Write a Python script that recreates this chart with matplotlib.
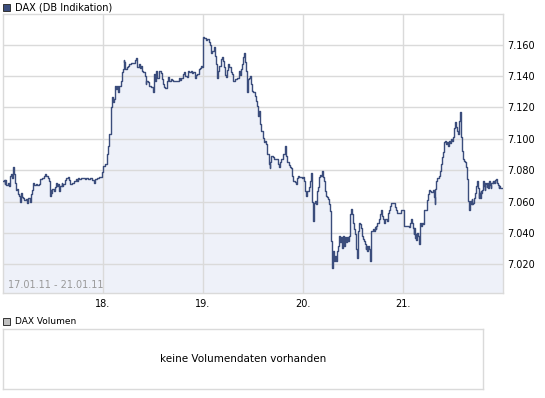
import matplotlib
matplotlib.use("Agg")
import matplotlib.pyplot as plt
from matplotlib.patches import Rectangle
from matplotlib.ticker import FuncFormatter

# Zeitpunkte in Tagen ab 17.01.11 00:00, Kurse in Punkten
zeit = [
    0.002, 0.015, 0.022, 0.032, 0.042, 0.055, 0.062, 0.075, 0.088, 0.095,
    0.108, 0.115, 0.128, 0.135, 0.148, 0.155, 0.165, 0.175, 0.185, 0.195,
    0.208, 0.221, 0.235, 0.248, 0.261, 0.274, 0.288, 0.298, 0.308, 0.321,
    0.334, 0.348, 0.368, 0.381, 0.401, 0.414, 0.427, 0.441, 0.454, 0.467,
    0.474, 0.481, 0.491, 0.501, 0.514, 0.527, 0.534, 0.547, 0.557, 0.567,
    0.581, 0.594, 0.600, 0.614, 0.627, 0.640, 0.654, 0.667, 0.680, 0.694,
    0.707, 0.720, 0.734, 0.747, 0.760, 0.773, 0.793, 0.813, 0.827, 0.840,
    0.860, 0.880, 0.900, 0.920, 0.933, 0.953, 0.973, 0.993, 1.000,
    1.006, 1.040, 1.046, 1.056, 1.073, 1.080, 1.089, 1.096, 1.103, 1.113,
    1.123, 1.133, 1.139, 1.149, 1.159, 1.173, 1.186, 1.193, 1.206, 1.213,
    1.219, 1.233, 1.246, 1.259, 1.272, 1.286, 1.299, 1.312, 1.326, 1.339,
    1.352, 1.366, 1.379, 1.392, 1.399, 1.412, 1.425, 1.432, 1.439, 1.455,
    1.472, 1.489, 1.505, 1.512, 1.522, 1.532, 1.545, 1.559, 1.572, 1.585,
    1.595, 1.605, 1.618, 1.632, 1.645, 1.658, 1.672, 1.685, 1.698, 1.712,
    1.725, 1.738, 1.752, 1.765, 1.778, 1.791, 1.805, 1.818, 1.831, 1.845,
    1.858, 1.871, 1.885, 1.898, 1.911, 1.924, 1.938, 1.951, 1.964, 1.978,
    1.991, 1.998,
    2.004, 2.024, 2.038, 2.051, 2.064, 2.078, 2.084, 2.097, 2.111, 2.117,
    2.131, 2.137, 2.151, 2.157, 2.171, 2.184, 2.197, 2.211, 2.217, 2.224,
    2.231, 2.244, 2.257, 2.270, 2.284, 2.297, 2.310, 2.324, 2.337, 2.350,
    2.364, 2.370, 2.384, 2.390, 2.404, 2.417, 2.427, 2.433, 2.443, 2.453,
    2.463, 2.477, 2.487, 2.497, 2.510, 2.523, 2.537, 2.550, 2.557, 2.563,
    2.570, 2.577, 2.590, 2.603, 2.610, 2.623, 2.636, 2.650, 2.663, 2.670,
    2.676, 2.690, 2.703, 2.716, 2.730, 2.743, 2.756, 2.763, 2.769, 2.783,
    2.796, 2.809, 2.823, 2.829, 2.836, 2.849, 2.863, 2.876, 2.889, 2.896,
    2.909, 2.923, 2.929, 2.942, 2.956, 2.969, 2.982, 2.996,
    3.002, 3.016, 3.029, 3.036, 3.049, 3.062, 3.076, 3.082, 3.089, 3.095,
    3.102, 3.109, 3.119, 3.129, 3.135, 3.142, 3.152, 3.162, 3.175, 3.182,
    3.192, 3.202, 3.215, 3.222, 3.235, 3.242, 3.255, 3.268, 3.275, 3.282,
    3.288, 3.292, 3.302, 3.312, 3.322, 3.328, 3.342, 3.355, 3.362, 3.368,
    3.382, 3.388, 3.402, 3.408, 3.415, 3.425, 3.435, 3.441, 3.451, 3.461,
    3.468, 3.478, 3.485, 3.491, 3.501, 3.511, 3.521, 3.528, 3.535, 3.541,
    3.548, 3.555, 3.561, 3.571, 3.581, 3.588, 3.601, 3.611, 3.621, 3.628,
    3.638, 3.648, 3.658, 3.668, 3.671, 3.678, 3.688, 3.701, 3.714, 3.721,
    3.728, 3.734, 3.748, 3.761, 3.771, 3.781, 3.791, 3.801, 3.814, 3.827,
    3.841, 3.851, 3.861, 3.874, 3.887, 3.907, 3.920, 3.934, 3.947, 3.960,
    3.974, 3.987,
    4.000, 4.007, 4.017, 4.034, 4.050, 4.060, 4.074, 4.080, 4.090, 4.100,
    4.107, 4.113, 4.120, 4.127, 4.133, 4.140, 4.150, 4.160, 4.167, 4.173,
    4.183, 4.193, 4.200, 4.207, 4.217, 4.233, 4.243, 4.253, 4.260, 4.266,
    4.276, 4.286, 4.300, 4.310, 4.316, 4.323, 4.333, 4.346, 4.360, 4.373,
    4.386, 4.393, 4.400, 4.406, 4.420, 4.433, 4.443, 4.453, 4.459, 4.473,
    4.483, 4.493, 4.506, 4.513, 4.519, 4.526, 4.533, 4.543, 4.549, 4.556,
    4.566, 4.573, 4.576, 4.586, 4.592, 4.599, 4.612, 4.626, 4.632, 4.639,
    4.646, 4.652, 4.659, 4.666, 4.672, 4.679, 4.686, 4.692, 4.706, 4.712,
    4.719, 4.726, 4.732, 4.739, 4.745, 4.752, 4.759, 4.765, 4.772, 4.779,
    4.785, 4.792, 4.799, 4.805, 4.812, 4.819, 4.825, 4.832, 4.839, 4.845,
    4.852, 4.859, 4.865, 4.872, 4.878, 4.885, 4.892, 4.899, 4.905, 4.912,
    4.918, 4.925, 4.932, 4.938, 4.945, 4.952, 4.958, 4.965, 4.978, 4.992,
]

kurs = [
    7073.2, 7074.0, 7071.0, 7074.0, 7070.5, 7072.0, 7070.0, 7076.4, 7077.5, 7075.0,
    7082.2, 7077.5, 7072.0, 7067.3, 7068.0, 7065.0, 7063.5, 7059.4, 7065.7, 7063.0,
    7062.5, 7060.9, 7061.3, 7059.0, 7062.5, 7059.4, 7064.5, 7067.3, 7072.0, 7070.5,
    7071.0, 7070.5, 7071.0, 7074.3, 7075.0, 7076.2, 7077.5, 7076.4, 7075.3, 7072.8,
    7063.5, 7067.3, 7065.7, 7068.0, 7067.0, 7069.0, 7071.5, 7070.0, 7071.0, 7066.5,
    7070.0, 7072.0, 7070.0, 7071.0, 7074.0, 7075.3, 7075.7, 7074.0, 7071.0, 7071.5,
    7072.0, 7073.0, 7074.3, 7073.0, 7075.0, 7074.3, 7075.3, 7075.0, 7074.3, 7075.3,
    7074.6, 7075.0, 7074.0, 7072.0, 7074.3, 7075.3, 7075.7, 7075.7, 7078.5,
    7082.8, 7084.0, 7090.3, 7095.6, 7103.0, 7112.6, 7120.0, 7126.4, 7123.5, 7125.5,
    7133.8, 7133.0, 7132.0, 7133.8, 7129.6, 7133.8, 7137.0, 7142.3, 7144.3, 7150.2,
    7149.0, 7144.3, 7145.8, 7146.4, 7147.4, 7148.0, 7148.0, 7148.5, 7150.2, 7151.5,
    7145.8, 7147.4, 7145.3, 7146.4, 7143.3, 7142.3, 7140.3, 7135.0, 7137.0, 7136.0,
    7133.8, 7133.0, 7130.1, 7141.3, 7137.0, 7143.3, 7138.7, 7139.0, 7143.3, 7141.7,
    7138.0, 7135.0, 7133.2, 7132.5, 7136.6, 7139.6, 7137.0, 7138.0, 7137.5, 7136.6,
    7137.0, 7136.6, 7137.0, 7138.7, 7137.5, 7139.0, 7141.3, 7142.3, 7140.3, 7139.6,
    7143.0, 7142.3, 7143.3, 7141.7, 7142.3, 7139.0, 7140.8, 7141.3, 7144.3, 7145.3,
    7146.4, 7145.5,
    7164.7, 7164.3, 7163.0, 7163.6, 7161.5, 7160.0, 7154.5, 7156.2, 7155.7, 7158.3,
    7153.0, 7147.7, 7139.0, 7143.3, 7146.4, 7150.9, 7152.0, 7149.8, 7145.5, 7140.8,
    7139.6, 7143.8, 7147.7, 7145.5, 7142.3, 7141.3, 7136.5, 7138.0, 7138.0, 7139.0,
    7143.3, 7140.8, 7144.3, 7147.7, 7152.3, 7154.5, 7148.7, 7143.3, 7129.6, 7138.0,
    7139.0, 7140.0, 7134.7, 7130.5, 7129.6, 7127.4, 7124.3, 7121.0, 7114.7, 7117.8,
    7114.7, 7109.4, 7105.1, 7100.8, 7097.7, 7098.6, 7096.5, 7090.3, 7083.9, 7081.3,
    7085.0, 7089.2, 7088.2, 7087.0, 7087.0, 7087.0, 7083.9, 7081.8, 7085.0, 7087.0,
    7087.0, 7090.3, 7095.6, 7092.8, 7089.2, 7085.0, 7083.5, 7082.3, 7081.3, 7076.4,
    7073.2, 7072.2, 7071.1, 7075.3, 7076.4, 7075.8, 7075.8, 7075.3,
    7075.8, 7072.9, 7066.9, 7063.7, 7066.9, 7069.0, 7073.2, 7077.9, 7070.0, 7059.5,
    7047.6, 7057.3, 7058.8, 7060.5, 7058.3, 7066.9, 7069.0, 7075.4, 7077.1, 7076.5,
    7079.6, 7075.4, 7072.9, 7066.9, 7063.7, 7063.0, 7061.6, 7058.4, 7054.0, 7034.9,
    7031.7, 7017.8, 7028.5, 7022.1, 7025.3, 7022.1, 7028.5, 7031.7, 7038.1, 7033.9,
    7037.1, 7030.7, 7038.1, 7036.1, 7031.7, 7037.1, 7033.9, 7037.6, 7034.9, 7038.1,
    7046.6, 7051.9, 7055.1, 7051.9, 7046.6, 7042.4, 7039.2, 7033.9, 7029.6, 7024.2,
    7032.7, 7041.3, 7046.6, 7045.5, 7043.4, 7038.1, 7036.0, 7034.9, 7032.7, 7029.6,
    7031.7, 7028.5, 7031.7, 7029.6, 7022.1, 7032.7, 7041.3, 7042.4, 7041.3, 7043.8,
    7042.4, 7044.5, 7046.6, 7048.8, 7051.9, 7054.5, 7050.9, 7048.8, 7046.6, 7048.8,
    7047.7, 7053.0, 7054.5, 7057.3, 7058.8, 7058.8, 7056.6, 7054.5, 7053.0, 7052.4,
    7053.0, 7054.5,
    7054.5, 7047.7, 7044.5, 7044.1, 7044.5, 7043.9, 7046.2, 7048.8, 7046.6, 7043.4,
    7039.6, 7043.4, 7036.8, 7039.0, 7035.8, 7040.0, 7038.0, 7032.8, 7040.0, 7046.6,
    7044.5, 7046.6, 7045.5, 7052.4, 7054.5, 7054.5, 7060.8, 7065.1, 7067.6, 7066.9,
    7066.9, 7066.3, 7067.3, 7063.0, 7058.3, 7068.3, 7073.2, 7074.9, 7076.4, 7079.6,
    7083.9, 7088.2, 7091.4, 7097.7, 7098.8, 7096.7, 7097.7, 7095.6, 7098.8, 7097.1,
    7099.9, 7098.4, 7101.0, 7106.9, 7110.5, 7109.0, 7107.8, 7105.2, 7103.1, 7106.3,
    7111.2, 7116.9, 7110.5, 7101.0, 7092.4, 7087.1, 7085.6, 7085.0, 7081.8, 7074.4,
    7065.8, 7060.5, 7054.5, 7059.3, 7060.5, 7058.3, 7061.5, 7058.3, 7059.3, 7062.5,
    7065.7, 7066.8, 7070.0, 7071.5, 7072.8, 7068.5, 7062.5, 7065.7, 7062.5, 7066.8,
    7065.7, 7067.2, 7069.3, 7073.2, 7070.0, 7067.2, 7072.1, 7071.0, 7069.3, 7072.1,
    7068.9, 7071.0, 7073.2, 7070.6, 7068.9, 7072.1, 7071.5, 7073.2, 7071.5, 7073.2,
    7072.1, 7073.6, 7074.2, 7071.5, 7072.1, 7070.6, 7068.5, 7070.0, 7068.9, 7068.5,
]

start_tag = 17
tage = [18, 19, 20, 21]
tag_labels = ["18.", "19.", "20.", "21."]
y_ticks = [7020, 7040, 7060, 7080, 7100, 7120, 7140, 7160]

LINIE = "#3b4d7c"
FLAECHE = "#eef1f9"
GRID = "#dadada"

fig = plt.figure(figsize=(5.45, 3.98), dpi=100)

ax = fig.add_axes([0.005, 0.263, 0.9185, 0.7018])
x = [start_tag + z for z in zeit]
y_unten = 7001.5
ax.fill_between(x, kurs, y_unten, color=FLAECHE, lw=0, zorder=1, step="mid")
ax.plot(x, kurs, color=LINIE, lw=1.0, zorder=3, drawstyle="steps-mid")
ax.set_xlim(17, 22)
ax.set_ylim(y_unten, 7179.5)

ax.set_xticks(tage)
ax.set_xticklabels(tag_labels)
ax.set_yticks(y_ticks)
ax.yaxis.tick_right()
ax.yaxis.set_major_formatter(FuncFormatter(lambda v, p: f"{v:,.0f}".replace(",", ".")))
ax.tick_params(length=0, labelsize=7, colors="black", pad=3)
ax.tick_params(axis="x", pad=4)
ax.grid(True, color=GRID, lw=1.0)
ax.set_axisbelow(False)
for s in ax.spines.values():
    s.set_color(GRID)
    s.set_linewidth(1.0)

ax.text(0.01, 0.012, "17.01.11 - 21.01.11", transform=ax.transAxes,
        fontsize=7, color="#999999", ha="left", va="bottom")

# Legenden-Kaestchen oben
fig.patches.append(Rectangle((3 / 545, 1 - 11 / 398), 7 / 545, 7 / 398,
                             transform=fig.transFigure, facecolor="#3b4d7c",
                             edgecolor="#333333", lw=0.7))
fig.text(15 / 545, 1 - 7 / 398, "DAX (DB Indikation)", fontsize=7, va="center", ha="left")

# Volumen-Bereich
fig.patches.append(Rectangle((3 / 545, 1 - 325 / 398), 7 / 545, 7 / 398,
                             transform=fig.transFigure, facecolor="#c0c0c0",
                             edgecolor="#333333", lw=0.7))
fig.text(15 / 545, 1 - 321.5 / 398, "DAX Volumen", fontsize=6.5, va="center", ha="left")

ax2 = fig.add_axes([0.005, 0.022, 0.881, 0.151])
ax2.set_xticks([])
ax2.set_yticks([])
for s in ax2.spines.values():
    s.set_color(GRID)
    s.set_linewidth(1.0)
ax2.text(0.5, 0.5, "keine Volumendaten vorhanden", transform=ax2.transAxes,
         ha="center", va="center", fontsize=7.5)

fig.savefig("out.png", dpi=100)
